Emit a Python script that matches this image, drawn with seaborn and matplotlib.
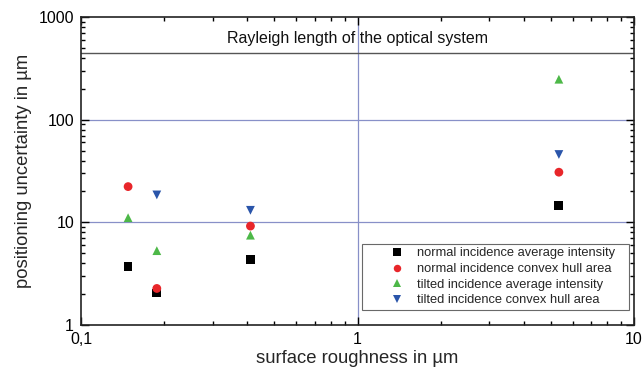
import matplotlib
matplotlib.use("Agg")
import matplotlib.pyplot as plt
import matplotlib.ticker as mticker
import seaborn as sns
import pandas as pd

roughness = [0.148, 0.188, 0.41, 5.35]
normal_avg = [3.74, 2.05, 4.38, 14.7]
normal_hull = [22.3, 2.27, 9.2, 30.8]
tilted_avg = [11.1, 5.3, 7.5, 248]
tilted_hull = [None, 18.5, 13.1, 45.8]
series_names = ["normal incidence average intensity",
                "normal incidence convex hull area",
                "tilted incidence average intensity",
                "tilted incidence convex hull area"]
rayleigh = 450

rows = []
for name, vals in zip(series_names, [normal_avg, normal_hull, tilted_avg, tilted_hull]):
    for x, v in zip(roughness, vals):
        if v is not None:
            rows.append({"x": x, "y": v, "series": name})
df = pd.DataFrame(rows)

sns.set_style("ticks")
plt.rcParams['font.family'] = ['Liberation Sans', 'DejaVu Sans']

fig = plt.figure(figsize=(6.43, 3.71), dpi=100)
ax = fig.add_axes([0.126, 0.124, 0.860, 0.830])

palette = dict(zip(series_names, ["#000000", "#e8262a", "#4db848", "#2a55aa"]))
markers = dict(zip(series_names, ["s", "o", "^", "v"]))

ax.axhline(10, color="#8890c8", lw=0.9, zorder=0)
ax.axhline(100, color="#8890c8", lw=0.9, zorder=0)
ax.axvline(1, color="#8890c8", lw=0.9, zorder=0)
ax.axhline(rayleigh, color="#555555", lw=1.0, zorder=0)

sns.scatterplot(data=df, x="x", y="y", hue="series", style="series",
                palette=palette, markers=markers, s=40, linewidth=0,
                hue_order=series_names, style_order=series_names, ax=ax, zorder=3)

ax.set_xscale("log")
ax.set_yscale("log")
ax.set_xlim(0.1, 10)
ax.set_ylim(1, 1000)

ax.xaxis.set_major_formatter(mticker.FuncFormatter(lambda v, p: ("%g" % v).replace(".", ",")))
ax.yaxis.set_major_formatter(mticker.FuncFormatter(lambda v, p: "%g" % v))
ax.xaxis.set_minor_formatter(mticker.NullFormatter())
ax.yaxis.set_minor_formatter(mticker.NullFormatter())

ax.tick_params(which="both", direction="in", top=True, right=True, colors="#000000",
               labelsize=11.5, width=1.0)
ax.tick_params(which="major", length=5.5, pad=5)
ax.tick_params(which="minor", length=3)
for s in ax.spines.values():
    s.set_color("#222222")
    s.set_linewidth(1.2)

ax.set_xlabel("surface roughness in µm", fontsize=13.3, labelpad=2)
ax.set_ylabel("positioning uncertainty in µm", fontsize=13.3, labelpad=5)

ax.text(1, 620, "Rayleigh length of the optical system", ha="center", va="center",
        fontsize=11.5, color="#111111")

leg = ax.legend(loc="lower left", bbox_to_anchor=(0.508, 0.05, 0.483, 0.2),
                mode="expand", fontsize=9.3,
                frameon=True, fancybox=False, edgecolor="#444444",
                borderpad=0.25, labelspacing=0.28, handlelength=5.0,
                handletextpad=-0.95, markerscale=0.85, borderaxespad=0.0)
leg.get_frame().set_linewidth(0.8)
leg.set_title(None)

fig.savefig("out.png", dpi=100)
